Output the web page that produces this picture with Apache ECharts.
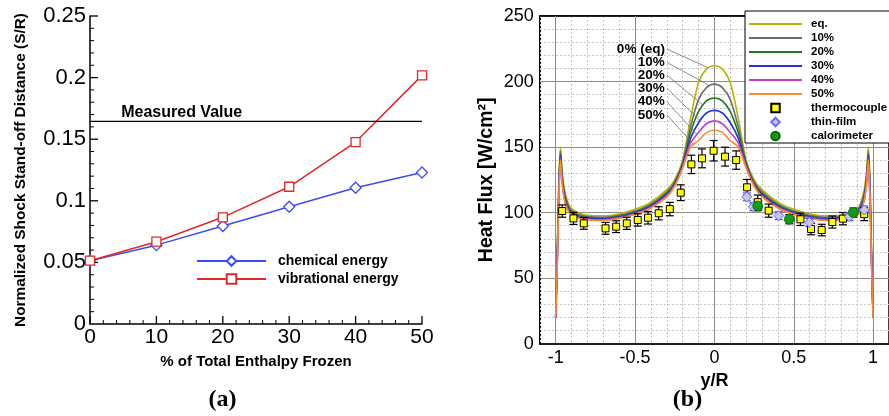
<!DOCTYPE html>
<html><head><meta charset="utf-8">
<script src="https://cdn.jsdelivr.net/npm/echarts@6/dist/echarts.min.js"></script>
<style>html,body{margin:0;padding:0;background:#fff}#c{width:889px;height:416px}</style>
</head><body><div id="c"></div>
<script>
// ---------- Panel (a) ----------
const FROZEN = [0, 10, 20, 30, 40, 50];
const CHEMICAL = [0.0514, 0.064, 0.0795, 0.0952, 0.1106, 0.123];
const VIBRATIONAL = [0.0514, 0.0668, 0.0866, 0.1114, 0.1477, 0.2018];
const MEASURED = 0.1645;
const MEASURED_LABEL_AT = 4.7;
const A_X_MAJOR = [0, 10, 20, 30, 40, 50];
const A_X_MINOR = [2, 4, 6, 8, 12, 14, 16, 18, 22, 24, 26, 28, 32, 34, 36, 38, 42, 44, 46, 48];
const A_Y_MAJOR = [0.05, 0.1, 0.15, 0.2, 0.25];
const A_Y_MINOR = [0.01, 0.02, 0.03, 0.04, 0.06, 0.07, 0.08, 0.09, 0.11, 0.12, 0.13, 0.14, 0.16, 0.17, 0.18, 0.19, 0.21, 0.22, 0.23, 0.24];

// ---------- Panel (b) ----------
const YR = [-1, -0.99, -0.98, -0.97, -0.96, -0.95, -0.94, -0.92, -0.9, -0.85, -0.8, -0.7, -0.6, -0.5, -0.4, -0.3, -0.25, -0.2, -0.15, -0.1, -0.05,
  0, 0.05, 0.1, 0.15, 0.2, 0.25, 0.3, 0.4, 0.5, 0.6, 0.7, 0.8, 0.85, 0.9, 0.92, 0.94, 0.95, 0.96, 0.97, 0.98, 0.99, 1];
const Q_EQ = [20, 70, 125, 150, 133, 122, 115, 107, 103, 99.5, 98, 97.5, 99, 102.5, 108, 117.5, 125, 140, 172, 199, 209.5,
  212, 209.5, 199, 172, 140, 125, 117.5, 108, 102.5, 99, 97.5, 98, 99.5, 103, 107, 115, 122, 133, 150, 125, 70, 20];
const Q_10 = [20, 67, 120.6, 147, 130, 119.4, 112.7, 105.3, 101.6, 98.3, 97, 96.5, 98, 101.3, 106.7, 115.9, 123.5, 138.3, 165.6, 186.2, 195.4,
  198, 195.4, 186.2, 165.6, 138.3, 123.5, 115.9, 106.7, 101.3, 98, 96.5, 97, 98.3, 101.6, 105.3, 112.7, 119.4, 130, 147, 120.6, 67, 20];
const Q_20 = [20, 65, 117.5, 145, 128, 117.5, 111, 104, 100.5, 97.5, 96.2, 95.7, 97.2, 100.5, 105.7, 114.7, 122.5, 137, 161, 177, 185.2,
  187.5, 185.2, 177, 161, 137, 122.5, 114.7, 105.7, 100.5, 97.2, 95.7, 96.2, 97.5, 100.5, 104, 111, 117.5, 128, 145, 117.5, 65, 20];
const Q_30 = [20, 63, 114.6, 143, 126, 115.8, 109.5, 102.9, 99.6, 96.7, 95.6, 95.1, 96.6, 99.7, 104.9, 113.7, 121.5, 135.9, 156.8, 168.6, 176,
  178, 176, 168.6, 156.8, 135.9, 121.5, 113.7, 104.9, 99.7, 96.6, 95.1, 95.6, 96.7, 99.6, 102.9, 109.5, 115.8, 126, 143, 114.6, 63, 20];
const Q_40 = [20, 61.5, 112, 141.5, 124.5, 114.3, 108.1, 101.8, 98.7, 96.1, 95, 94.5, 96, 99.1, 104.1, 112.8, 120.7, 134.8, 153.1, 161.2, 167.8,
  170, 167.8, 161.2, 153.1, 134.8, 120.7, 112.8, 104.1, 99.1, 96, 94.5, 95, 96.1, 98.7, 101.8, 108.1, 114.3, 124.5, 141.5, 112, 61.5, 20];
const Q_50 = [20, 60, 110, 140, 123, 113, 107, 101, 98, 95.5, 94.5, 94, 95.5, 98.5, 103.5, 112, 120, 134, 150, 155, 161,
  163, 161, 155, 150, 134, 120, 112, 103.5, 98.5, 95.5, 94, 94.5, 95.5, 98, 101, 107, 113, 123, 140, 110, 60, 20];

const TC_X = [-0.959, -0.888, -0.823, -0.686, -0.619, -0.552, -0.483, -0.418, -0.351, -0.281, -0.212, -0.145, -0.078, -0.005, 0.067, 0.137, 0.206, 0.273, 0.342, 0.542, 0.609, 0.676, 0.743, 0.81, 0.944];
const TC_Y = [101.2, 95.6, 91.8, 88, 89.3, 91.8, 94.4, 96.1, 99.5, 102.7, 115.2, 136.8, 141.4, 147.2, 142.7, 140.1, 119.3, 108, 101.5, 94.9, 87.5, 86.7, 92.8, 95.4, 98.8];
const TC_ERR = [4.7, 4.6, 4.5, 4.5, 4.5, 4.6, 4.7, 4.8, 5, 5.1, 6, 7, 7.2, 7.8, 7.2, 7, 6, 5.4, 5, 4.7, 4.4, 4.4, 4.6, 4.7, 4.9];
const TF_X = [0.204, 0.245, 0.405, 0.598, 0.85, 0.944];
const TF_Y = [112, 104.5, 97.7, 92.5, 96.9, 102];
const TF_ERR = [3, 3, 3, 3, 3, 3];
const CAL_X = [0.273, 0.472, 0.875];
const CAL_Y = [105, 95, 100];
const CAL_ERR = [3.5, 3.5, 3.5];

const ANNOT_TEXT = ['0% (eq)', '10%', '20%', '30%', '40%', '50%'];
const ANNOT_FROM = [[-0.312, 224.8], [-0.312, 214.6], [-0.312, 204.9], [-0.312, 194.8], [-0.312, 184.6], [-0.312, 174.5]];
const ANNOT_TO = [[-0.041, 210.6], [-0.041, 197.6], [-0.07, 181.9], [-0.09, 170.1], [-0.11, 159.6], [-0.13, 152]];

const MAJOR_X = [-1, -0.5, 0, 0.5, 1];
const CURVE_NAMES = ['eq.', '10%', '20%', '30%', '40%', '50%'];
const CURVE_COLORS = ['#b8b400', '#6e6e6e', '#1f7a1f', '#2433d6', '#c040c8', '#ff8a2a'];
const CURVES = [Q_EQ, Q_10, Q_20, Q_30, Q_40, Q_50];

const FONT = 'Liberation Sans';
const LINE_ICON = 'path://M0,0H53V2.2H0Z';
const SQUARE_ICON = 'path://M0,0H7V7H0Z';
const DIAMOND_ICON = 'path://M5,0L10,5L5,10L0,5Z';
const zip = (xs, ys) => xs.map((x, i) => [x, ys[i]]);
const zip3 = (xs, ys, es) => xs.map((x, i) => [x, ys[i], es[i]]);

// inward tick marks for panel (a): [x, y, length, direction(0 = up from x axis, 1 = right from y axis)]
const tickData = [].concat(
  A_X_MAJOR.map(v => [v, 0, 8, 0]), A_X_MINOR.map(v => [v, 0, 4, 0]),
  A_Y_MAJOR.map(v => [0, v, 8, 1]), A_Y_MINOR.map(v => [0, v, 4, 1])
);

function errRender(color) {
  return function (params, api) {
    const x = api.value(0), y = api.value(1), e = api.value(2);
    const lo = api.coord([x, y - e]), hi = api.coord([x, y + e]);
    const w = 4, st = { stroke: color, lineWidth: 1.2 };
    return { type: 'group', children: [
      { type: 'line', shape: { x1: lo[0], y1: lo[1], x2: hi[0], y2: hi[1] }, style: st },
      { type: 'line', shape: { x1: lo[0] - w, y1: lo[1], x2: lo[0] + w, y2: lo[1] }, style: st },
      { type: 'line', shape: { x1: hi[0] - w, y1: hi[1], x2: hi[0] + w, y2: hi[1] }, style: st }
    ]};
  };
}

const axisBlack = { show: true, onZero: false, lineStyle: { color: '#000', width: 1.5 } };

const curveSeries = CURVES.map((q, i) => ({
  name: CURVE_NAMES[i], type: 'line', xAxisIndex: 1, yAxisIndex: 1,
  data: zip(YR, q), symbol: 'none', showSymbol: false, smooth: 0.3,
  lineStyle: { color: CURVE_COLORS[i], width: 1.6 }, itemStyle: { color: CURVE_COLORS[i] },
  z: 2, silent: true
}));

const option = {
  animation: false,
  backgroundColor: '#fff',
  textStyle: { fontFamily: FONT },
  grid: [
    { left: 90, top: 16, width: 332, height: 308 },
    { left: 539.8, top: 16, width: 349.4, height: 327.7, show: true, borderColor: '#000', borderWidth: 1.5, backgroundColor: 'transparent' }
  ],
  xAxis: [
    { gridIndex: 0, type: 'value', min: 0, max: 50, interval: 10,
      axisLine: axisBlack, axisTick: { show: false }, minorTick: { show: false },
      splitLine: { show: false },
      axisLabel: { fontSize: 21, color: '#000', margin: 3, fontFamily: FONT },
      name: '% of Total Enthalpy Frozen', nameLocation: 'middle', nameGap: 30,
      nameTextStyle: { fontSize: 15, fontWeight: 'bold', color: '#000', fontFamily: FONT } },
    { gridIndex: 1, type: 'value', min: -1.1, max: 1.1, interval: 0.1, z: 2,
      axisLine: axisBlack,
      axisTick: { show: false, customValues: MAJOR_X },
      axisLabel: { customValues: MAJOR_X, fontSize: 18, color: '#000', margin: 5, fontFamily: FONT },
      splitLine: { show: true, lineStyle: { color: '#8a8a8a', width: 1 } },
      name: 'y/R', nameLocation: 'middle', nameGap: 16,
      nameTextStyle: { fontSize: 18, fontWeight: 'bold', color: '#000', fontFamily: FONT } },
    { gridIndex: 1, type: 'value', position: 'top', min: -1.1, max: 1.1, interval: 0.1, z: 1,
      axisLine: axisBlack, axisTick: { show: false }, axisLabel: { show: false },
      splitLine: { show: true, lineStyle: { color: '#c4c4c4', width: 1, type: [2, 2] } } }
  ],
  yAxis: [
    { gridIndex: 0, type: 'value', min: 0, max: 0.25, interval: 0.05,
      axisLine: axisBlack, axisTick: { show: false }, minorTick: { show: false },
      splitLine: { show: false },
      axisLabel: { fontSize: 22, color: '#000', margin: 4, fontFamily: FONT },
      name: 'Normalized Shock Stand-off Distance (S/R)', nameLocation: 'middle', nameGap: 61.5,
      nameTextStyle: { fontSize: 15.4, fontWeight: 'bold', color: '#000', fontFamily: FONT } },
    { gridIndex: 1, type: 'value', min: 0, max: 250, interval: 50,
      axisLine: axisBlack, axisTick: { show: false },
      minorTick: { show: false, splitNumber: 5 },
      splitLine: { show: true, lineStyle: { color: '#8a8a8a', width: 1 } },
      minorSplitLine: { show: true, lineStyle: { color: '#c4c4c4', width: 1, type: [2, 2] } },
      axisLabel: { fontSize: 18, color: '#000', margin: 6, fontFamily: FONT },
      name: 'Heat Flux [W/cm²]', nameLocation: 'middle', nameGap: 43.5,
      nameTextStyle: { fontSize: 19.5, fontWeight: 'bold', color: '#000', fontFamily: FONT } }
  ],
  legend: [
    { data: ['chemical energy', 'vibrational energy'], orient: 'vertical', left: 196, top: 254, padding: 0,
      itemWidth: 69, itemHeight: 12, itemGap: 4, selectedMode: false,
      textStyle: { fontSize: 14, fontWeight: 'bold', color: '#000', lineHeight: 14, padding: [0, 0, 0, 7], fontFamily: FONT } },
    { data: [
        { name: 'eq.', icon: LINE_ICON }, { name: '10%', icon: LINE_ICON }, { name: '20%', icon: LINE_ICON },
        { name: '30%', icon: LINE_ICON }, { name: '40%', icon: LINE_ICON }, { name: '50%', icon: LINE_ICON },
        { name: 'thermocouple', icon: SQUARE_ICON }, { name: 'thin-film', icon: DIAMOND_ICON }, { name: 'calorimeter', icon: 'circle' }],
      orient: 'vertical', left: 745, top: 11, padding: [6, 14, 0, 4], symbolKeepAspect: true,
      itemWidth: 53, itemHeight: 8.5, itemGap: 0, selectedMode: false,
      backgroundColor: '#fff', borderColor: '#000', borderWidth: 1, z: 10,
      textStyle: { fontSize: 11.5, fontWeight: 'bold', color: '#000', lineHeight: 14, padding: [0, 0, 0, 4], fontFamily: FONT } }
  ],
  graphic: [
    { type: 'text', x: 222.5, y: 400, style: { text: '(a)', font: 'bold 24px "Liberation Serif"', fill: '#000', align: 'center', verticalAlign: 'middle' } },
    { type: 'text', x: 687.5, y: 400, style: { text: '(b)', font: 'bold 24px "Liberation Serif"', fill: '#000', align: 'center', verticalAlign: 'middle' } }
  ],
  series: [
    { name: 'ticks-a', type: 'custom', xAxisIndex: 0, yAxisIndex: 0, silent: true, z: 1, data: tickData,
      renderItem: function (params, api) {
        const p = api.coord([api.value(0), api.value(1)]);
        const len = api.value(2), dir = api.value(3);
        const shape = dir === 0 ? { x1: p[0], y1: p[1], x2: p[0], y2: p[1] - len } : { x1: p[0], y1: p[1], x2: p[0] + len, y2: p[1] };
        return { type: 'line', shape: shape, style: { stroke: '#000', lineWidth: len > 5 ? 1.3 : 1 } };
      } },
    { name: 'chemical energy', type: 'line', xAxisIndex: 0, yAxisIndex: 0, data: zip(FROZEN, CHEMICAL),
      symbol: 'diamond', symbolSize: 11, lineStyle: { color: '#3c4cf5', width: 1.5 },
      itemStyle: { color: '#fff', borderColor: '#3c4cf5', borderWidth: 1.3 }, z: 3 },
    { name: 'vibrational energy', type: 'line', xAxisIndex: 0, yAxisIndex: 0, data: zip(FROZEN, VIBRATIONAL),
      symbol: 'rect', symbolSize: 9, lineStyle: { color: '#e02828', width: 1.5 },
      itemStyle: { color: '#fff', borderColor: '#e02828', borderWidth: 1.3 }, z: 3 },
    { name: 'measured', type: 'line', xAxisIndex: 0, yAxisIndex: 0,
      data: [[FROZEN[0], MEASURED], [FROZEN[FROZEN.length - 1], MEASURED]],
      symbol: 'none', lineStyle: { color: '#000', width: 1.3 }, silent: true },
    { name: 'measured-label', type: 'custom', xAxisIndex: 0, yAxisIndex: 0, data: [[MEASURED_LABEL_AT, MEASURED]],
      renderItem: function (params, api) {
        const p = api.coord([api.value(0), api.value(1)]);
        return { type: 'text', x: p[0], y: p[1] - 1, style: { text: 'Measured Value', font: 'bold 16px "Liberation Sans"', fill: '#000', align: 'left', verticalAlign: 'bottom' } };
      }, silent: true },
    ...curveSeries,
    { name: 'annot', type: 'custom', xAxisIndex: 1, yAxisIndex: 1, z: 4, silent: true,
      data: ANNOT_FROM.map((f, i) => [f[0], f[1], ANNOT_TO[i][0], ANNOT_TO[i][1]]),
      renderItem: function (params, api) {
        const p = api.coord([api.value(0), api.value(1)]);
        const q = api.coord([api.value(2), api.value(3)]);
        return { type: 'group', children: [
          { type: 'line', shape: { x1: p[0] + 2, y1: p[1], x2: q[0], y2: q[1] }, style: { stroke: '#707070', lineWidth: 0.8 } },
          { type: 'text', x: p[0], y: p[1], style: { text: ANNOT_TEXT[params.dataIndex], font: 'bold 13.5px "Liberation Sans"', fill: '#000', align: 'right', verticalAlign: 'middle' } }
        ]};
      } },
    { name: 'tc-err', type: 'custom', xAxisIndex: 1, yAxisIndex: 1, z: 5, silent: true, data: zip3(TC_X, TC_Y, TC_ERR), renderItem: errRender('#000') },
    { name: 'tf-err', type: 'custom', xAxisIndex: 1, yAxisIndex: 1, z: 5, silent: true, data: zip3(TF_X, TF_Y, TF_ERR), renderItem: errRender('#3a4cff') },
    { name: 'cal-err', type: 'custom', xAxisIndex: 1, yAxisIndex: 1, z: 5, silent: true, data: zip3(CAL_X, CAL_Y, CAL_ERR), renderItem: errRender('#000') },
    { name: 'thermocouple', type: 'scatter', xAxisIndex: 1, yAxisIndex: 1, z: 6, data: zip(TC_X, TC_Y),
      symbol: 'rect', symbolSize: 7, itemStyle: { color: '#ffff00', borderColor: '#000', borderWidth: 1, opacity: 1 } },
    { name: 'thin-film', type: 'scatter', xAxisIndex: 1, yAxisIndex: 1, z: 6, data: zip(TF_X, TF_Y),
      symbol: 'diamond', symbolSize: 10, itemStyle: { color: '#c8c8dc', borderColor: '#6a6aff', borderWidth: 1, opacity: 1 } },
    { name: 'calorimeter', type: 'scatter', xAxisIndex: 1, yAxisIndex: 1, z: 6, data: zip(CAL_X, CAL_Y),
      symbol: 'circle', symbolSize: 10, itemStyle: { color: '#129a12', borderColor: '#0a6a0a', borderWidth: 0.8, opacity: 1 } }
  ]
};

const chart = echarts.init(document.getElementById('c'), null, { renderer: 'canvas' });
chart.setOption(option);
</script></body></html>
